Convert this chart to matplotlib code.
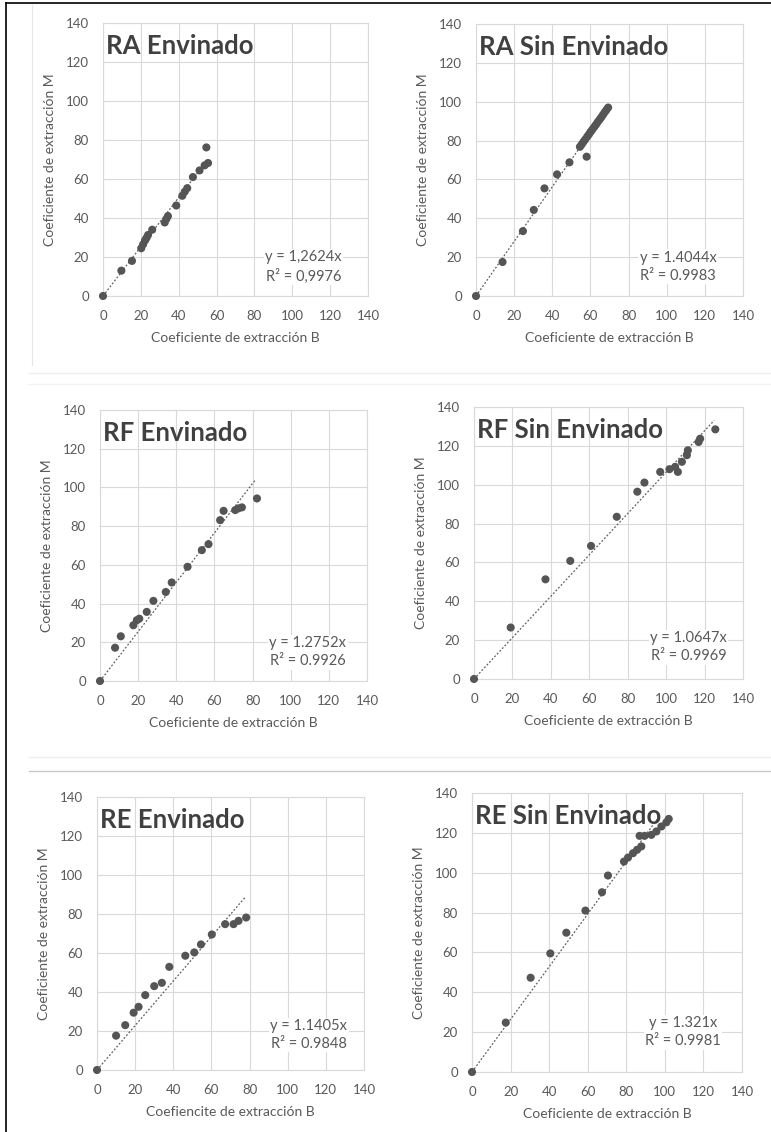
import matplotlib
matplotlib.use("Agg")
import matplotlib.pyplot as plt
from matplotlib.lines import Line2D

plt.rcParams['font.family'] = ['Lato', 'DejaVu Sans']

W, H = 771, 1132

titles = ["RA Envinado", "RA Sin Envinado", "RF Envinado", "RF Sin Envinado",
          "RE Envinado", "RE Sin Envinado"]
xlabels = ["Coeficiente de extracción B", "Coeficiente de extracción B",
           "Coeficiente de extracción B", "Coeficiente de extracción B",
           "Coefiencite de extracción B", "Coeficiente de extracción B"]
ylabel = "Coeficiente de extracción M"
slopes = [1.2624, 1.4044, 1.2752, 1.0647, 1.1405, 1.321]
eq_texts = ["y = 1,2624x\nR² = 0,9976", "y = 1.4044x\nR² = 0.9983",
            "y = 1.2752x\nR² = 0.9926", "y = 1.0647x\nR² = 0.9969",
            "y = 1.1405x\nR² = 0.9848", "y = 1.321x\nR² = 0.9981"]
trend_end = [55.5, 69.5, 81.5, 125, 77.5, 97]

ra_env_x = [0, 9.7, 15.3, 20.2, 21.2, 22.2, 23.0, 23.8, 26.0, 32.6, 33.5, 34.3, 38.7,
            41.9, 43.2, 44.5, 47.5, 51.0, 53.7, 55.5, 54.6]
ra_env_y = [0, 13.0, 18.0, 24.5, 26.5, 28.5, 29.8, 31.3, 34.0, 37.7, 39.5, 41.0, 46.4,
            51.4, 53.5, 55.3, 61.0, 64.4, 67.0, 68.2, 76.2]

ra_sin_x = [0, 13.9, 24.6, 30.3, 35.9, 42.5, 49.0, 58.0, 54.5, 55.4, 56.3, 57.2, 58.3,
            59.2, 60.1, 61.0, 62.0, 62.9, 63.8, 64.8, 65.7, 66.6, 67.5, 68.4, 69.3]
ra_sin_y = [0, 17.5, 33.4, 44.3, 55.4, 62.6, 68.8, 71.7, 76.8, 78.0, 79.3, 80.5, 82.0,
            83.2, 84.5, 85.7, 87.0, 88.2, 89.5, 90.8, 92.0, 93.3, 94.6, 95.8, 97.0]

rf_env_x = [0, 7.9, 10.9, 17.5, 19.3, 20.6, 24.5, 28.0, 34.5, 37.6, 45.9, 53.4, 56.9,
            63.0, 64.8, 70.9, 72.6, 74.4, 82.3]
rf_env_y = [0, 17.2, 23.1, 28.8, 31.4, 32.2, 35.7, 41.4, 46.0, 50.9, 59.0, 67.6, 70.7,
            83.1, 87.9, 88.3, 89.2, 89.7, 94.3]

rf_sin_x = [0, 19.1, 37.2, 50.1, 60.9, 74.3, 85.0, 88.7, 96.9, 101.7, 104.7, 106.1,
            108.2, 110.8, 111.3, 116.9, 117.7, 125.6]
rf_sin_y = [0, 26.5, 51.3, 60.8, 68.5, 83.5, 96.4, 101.1, 106.6, 108.0, 109.2, 106.6,
            111.8, 115.2, 117.7, 122.0, 123.7, 128.5]

re_env_x = [0, 10.0, 14.8, 19.2, 21.8, 25.3, 30.0, 34.0, 37.9, 46.3, 51.0, 54.5, 60.2,
            67.2, 71.6, 74.2, 78.2]
re_env_y = [0, 17.6, 23.0, 29.4, 32.4, 38.4, 43.0, 44.7, 52.9, 58.6, 60.3, 64.4, 69.5,
            74.8, 74.8, 76.5, 78.2]

re_sin_x = [0, 17.5, 30.4, 40.6, 48.9, 58.8, 67.4, 70.5, 78.8, 80.9, 83.5, 85.6, 87.8,
            86.9, 89.5, 93.0, 95.6, 98.2, 100.8, 102.0]
re_sin_y = [0, 24.8, 47.3, 59.5, 69.9, 81.0, 90.2, 98.6, 105.6, 107.6, 109.8, 111.5,
            113.2, 118.5, 118.5, 119.0, 120.7, 123.2, 125.3, 127.0]

xs = [ra_env_x, ra_sin_x, rf_env_x, rf_sin_x, re_env_x, re_sin_x]
ys = [ra_env_y, ra_sin_y, rf_env_y, rf_sin_y, re_env_y, re_sin_y]
ticks = [0, 20, 40, 60, 80, 100, 120, 140]

# pixel boxes: left, right, top, bottom
boxes = [(103, 368, 23, 296), (476, 743, 24, 296),
         (100, 367, 410, 681), (474, 743, 407, 679),
         (97, 364, 797, 1070), (472, 742, 793, 1072)]
# equation block centre in data units
eq_pos = [(106, 15), (106, 15), (109, 14.8), (111.6, 16.4), (111, 18), (109.4, 20)]

fig = plt.figure(figsize=(W / 100, H / 100), dpi=100)
fig.patch.set_facecolor('white')

grid_c = '#d9d9d9'
text_c = '#595959'
mark_c = '#555555'

for i in range(6):
    l, r, t, b = boxes[i]
    ax = fig.add_axes([l / W, 1 - b / H, (r - l) / W, (b - t) / H])
    ax.set_xlim(0, 140)
    ax.set_ylim(0, 140)
    ax.set_xticks(ticks)
    ax.set_yticks(ticks)
    ax.grid(True, color=grid_c, lw=0.8)
    ax.set_axisbelow(True)
    for s in ax.spines.values():
        s.set_color(grid_c)
        s.set_linewidth(0.8)
    ax.tick_params(length=0, labelsize=9.5, labelcolor=text_c, pad=10)
    ax.plot([0, trend_end[i]], [0, slopes[i] * trend_end[i]], ls=(0, (1.5, 1.5)),
            color='#606060', lw=0.9, zorder=2)
    ax.scatter(xs[i], ys[i], s=34, color=mark_c, edgecolors='none', zorder=3,
               clip_on=False)
    ax.text(0.012, 0.96, titles[i], transform=ax.transAxes, fontsize=18.5,
            fontweight='bold', color='#404040', ha='left', va='top', zorder=4)
    ax.text(eq_pos[i][0], eq_pos[i][1], eq_texts[i], fontsize=10.5, color=text_c,
            ha='center', va='center', linespacing=1.35,
            bbox=dict(facecolor='white', edgecolor='none', pad=1), zorder=4)
    ax.set_xlabel(xlabels[i], fontsize=10, color=text_c, labelpad=7)
    ax.set_ylabel(ylabel, fontsize=10, color=text_c, labelpad=7)

# frame and separator lines
fig.add_artist(Line2D([6 / W, 1], [1 - 3 / H, 1 - 3 / H], color='black', lw=1.2,
                      transform=fig.transFigure))
fig.add_artist(Line2D([6 / W, 6 / W], [0, 1 - 3 / H], color='black', lw=1.2,
                      transform=fig.transFigure))
fig.add_artist(Line2D([32 / W, 32 / W], [1 - 365 / H, 1 - 5 / H], color='#e6e6e6',
                      lw=0.8, transform=fig.transFigure))
for yy, c in [(373, '#ececec'), (384, '#f2f2f2'), (757, '#ececec'), (771, '#c8c8c8')]:
    fig.add_artist(Line2D([29 / W, 1], [1 - yy / H, 1 - yy / H], color=c, lw=1,
                          transform=fig.transFigure))

fig.savefig('out.png', dpi=100, facecolor='white')
